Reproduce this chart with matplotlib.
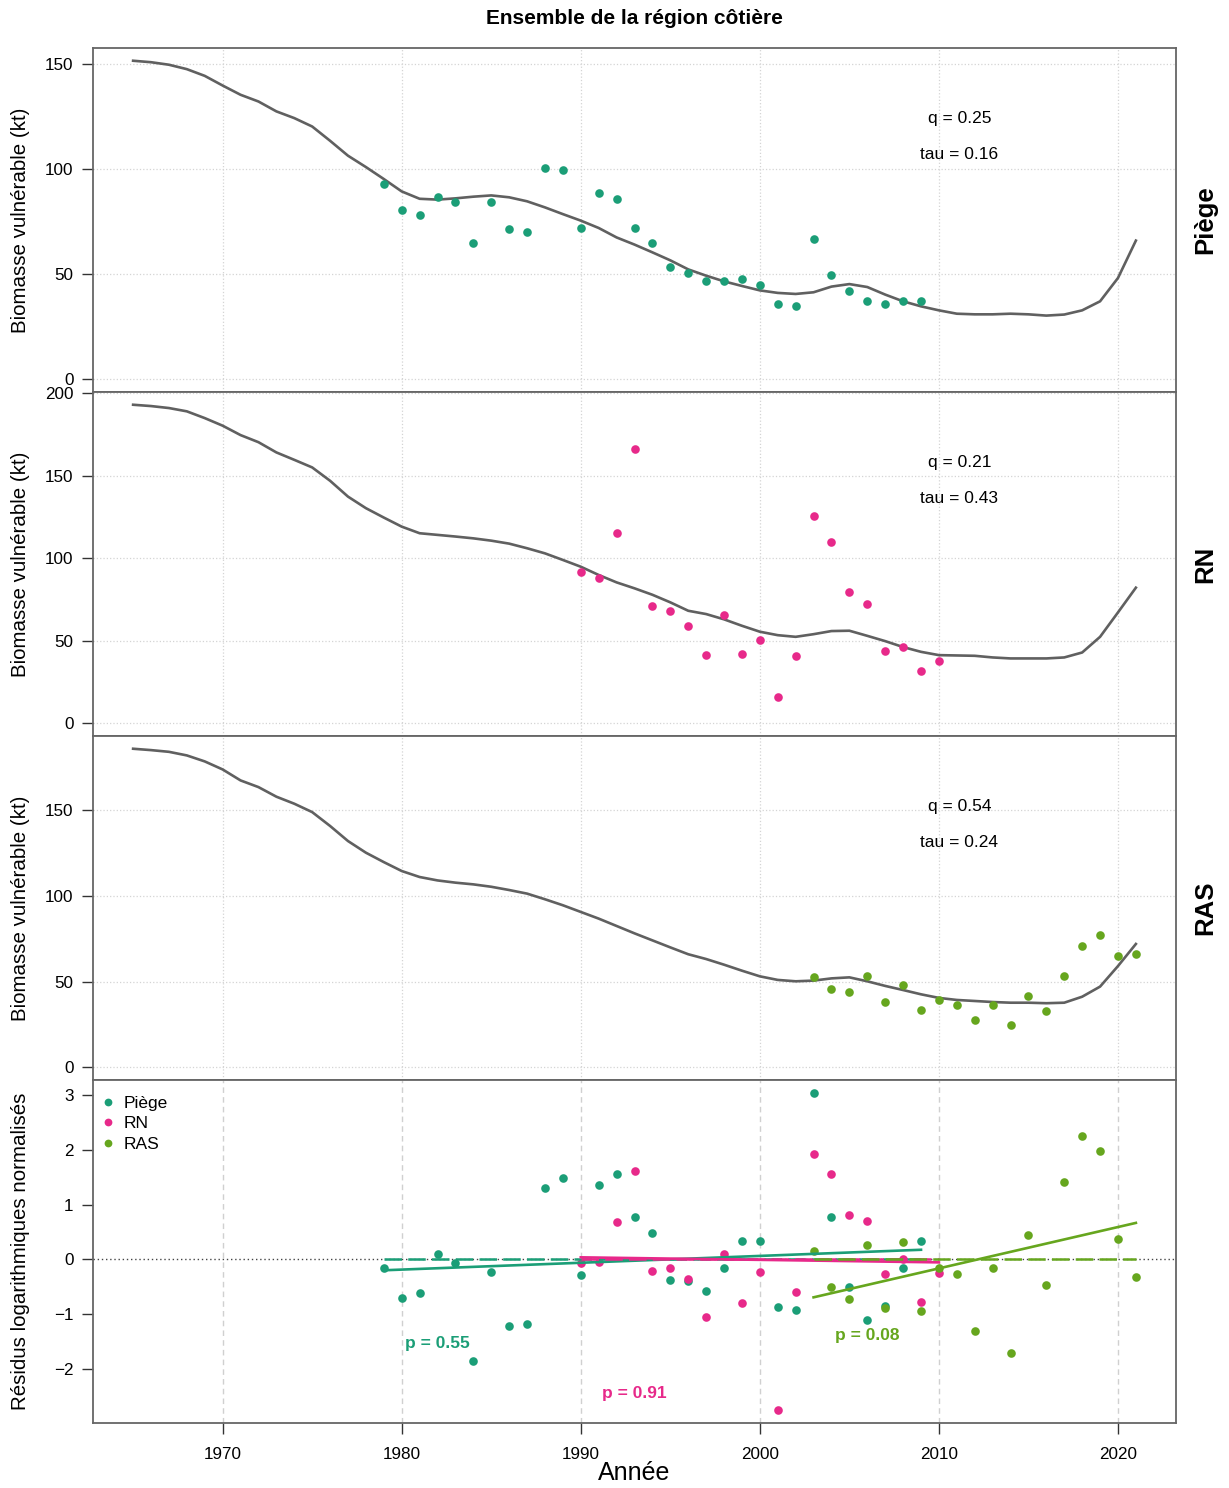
import numpy as np
import matplotlib
matplotlib.use("Agg")
import matplotlib.pyplot as plt
from matplotlib.lines import Line2D

plt.rcParams["font.family"] = ["Liberation Sans", "DejaVu Sans"]

# fitted vulnerable biomass (kt), 1965-2021
fit_years = list(range(1965, 2022))
piege_fit = [151.6, 150.9, 149.7, 147.6, 144.4, 139.8, 135.4, 132.2, 127.5, 124.3,
             120.3, 113.5, 106.4, 101.0, 95.3, 89.4, 85.9, 85.5, 86.1, 86.9,
             87.5, 86.6, 84.7, 81.8, 78.6, 75.5, 72.0, 67.5, 64.1, 60.4,
             56.6, 52.3, 49.3, 46.6, 44.4, 42.3, 41.1, 40.6, 41.4, 44.1,
             45.3, 43.9, 40.3, 37.1, 34.7, 32.8, 31.2, 30.9, 30.9, 31.2,
             30.9, 30.3, 30.8, 32.8, 37.1, 48.2, 66.0]
rn_fit = [193.1, 192.3, 191.1, 189.1, 185.0, 180.4, 174.7, 170.4, 164.2, 159.7,
          155.1, 147.0, 137.4, 130.4, 124.7, 119.2, 115.2, 114.2, 113.2, 112.1,
          110.7, 108.9, 106.1, 103.0, 99.0, 94.9, 89.9, 85.4, 81.8, 77.9,
          73.3, 68.2, 66.2, 63.0, 59.1, 55.5, 53.4, 52.4, 54.0, 55.9,
          56.1, 53.0, 49.8, 46.2, 43.3, 41.3, 41.1, 40.9, 39.9, 39.3,
          39.3, 39.3, 39.9, 42.9, 52.4, 67.2, 82.2]
ras_fit = [186.0, 185.2, 184.2, 182.1, 178.6, 173.9, 167.5, 163.6, 158.0, 153.9,
           149.0, 140.9, 132.1, 125.3, 119.8, 114.6, 111.1, 109.1, 107.8, 106.8,
           105.4, 103.5, 101.4, 98.1, 94.6, 90.7, 86.8, 82.5, 78.2, 74.1,
           70.0, 66.0, 63.2, 59.9, 56.4, 53.1, 51.0, 50.2, 50.6, 51.9,
           52.5, 50.2, 47.5, 45.1, 42.6, 40.5, 39.3, 38.7, 38.1, 37.7,
           37.7, 37.4, 37.7, 41.2, 47.1, 59.1, 72.0]

# index observations
piege_years = list(range(1979, 2010))
piege_obs = [92.9, 80.4, 78.0, 86.7, 84.5, 64.8, 84.5, 71.3, 70.2, 100.7,
             99.4, 71.8, 88.8, 85.8, 71.8, 64.8, 53.6, 50.7, 46.6, 46.6,
             47.9, 45.0, 36.0, 35.0, 66.9, 49.5, 42.0, 37.1, 36.0, 37.1, 37.3]
rn_years = list(range(1990, 2011))
rn_obs = [91.9, 88.1, 115.6, 166.2, 70.9, 68.2, 58.7, 41.3, 65.6, 41.9,
          50.2, 16.2, 40.9, 125.5, 109.7, 79.8, 72.1, 44.1, 46.0, 31.4, 37.7]
ras_years = list(range(2003, 2022))
ras_obs = [52.5, 45.9, 44.2, 53.3, 38.1, 48.2, 33.5, 39.1, 36.6, 27.8,
           36.4, 24.9, 41.6, 32.9, 53.3, 71.0, 77.4, 65.0, 66.3]

# normalised log residuals
piege_resid = [-0.16, -0.70, -0.61, 0.10, -0.07, -1.85, -0.22, -1.21, -1.18, 1.30,
               1.49, -0.28, 1.36, 1.55, 0.77, 0.48, -0.38, -0.39, -0.58, -0.16,
               0.34, 0.33, -0.87, -0.92, 3.04, 0.77, -0.51, -1.10, -0.84, -0.16, 0.34]
rn_resid = [-0.07, -0.05, 0.68, 1.62, -0.21, -0.16, -0.35, -1.05, 0.10, -0.79,
            -0.22, -2.75, -0.59, 1.93, 1.55, 0.81, 0.70, -0.27, 0.00, -0.78, -0.25]
ras_resid = [0.16, -0.50, -0.72, 0.26, -0.88, 0.31, -0.94, -0.15, -0.27, -1.30,
             -0.16, -1.71, 0.45, -0.47, 1.41, 2.25, 1.98, 0.37, -0.32]

names = ["Piège", "RN", "RAS"]
colors = ["#1B9E77", "#E7298A", "#66A61E"]
q_vals = ["0.25", "0.21", "0.54"]
tau_vals = ["0.16", "0.43", "0.24"]
p_vals = ["0.55", "0.91", "0.08"]
p_pos = [(1982.0, -1.53), (1993.0, -2.44), (2006.0, -1.38)]

fits = [piege_fit, rn_fit, ras_fit]
obs_years = [piege_years, rn_years, ras_years]
obs = [piege_obs, rn_obs, ras_obs]
resids = [piege_resid, rn_resid, ras_resid]

W, H = 1229, 1488
fig = plt.figure(figsize=(W / 100, H / 100), dpi=100)
left, right = 93 / W, 1176 / W
tops = [48, 392, 736, 1080]
bots = [392, 736, 1080, 1423]

xmin, xmax = min(fit_years), max(fit_years)
xr = xmax - xmin
xlim = (xmin - 0.04 * xr, xmax + 0.04 * xr)
spine_col = "#666666"
tick_fs = 12.3
ms = 6.2


def style_axes(ax, bottom_ticks):
    for s in ax.spines.values():
        s.set_color(spine_col)
        s.set_linewidth(1.3)
    ax.tick_params(axis="y", direction="out", length=8, width=1, color="#333333",
                   labelsize=tick_fs, pad=6)
    ax.tick_params(axis="x", direction="out", length=8, width=1, color="#333333",
                   labelsize=tick_fs, pad=9, bottom=bottom_ticks, labelbottom=bottom_ticks)
    ax.set_xlim(xlim)
    ax.set_xticks([1970, 1980, 1990, 2000, 2010, 2020])


axes = []
for i in range(4):
    ax = fig.add_axes([left, 1 - bots[i] / H, right - left, (bots[i] - tops[i]) / H])
    axes.append(ax)

# biomass panels
for i in range(3):
    ax = axes[i]
    style_axes(ax, False)
    ymax = max(max(fits[i]), max(obs[i]))
    ax.set_ylim(-0.04 * ymax, 1.04 * ymax)
    ax.set_yticks(np.arange(0, 1.04 * ymax, 50))
    ax.grid(True, color="#d4d4d4", linestyle=":", linewidth=0.9)
    ax.set_axisbelow(True)
    ax.plot(fit_years, fits[i], color="#606060", lw=1.9, zorder=3)
    ax.plot(obs_years[i], obs[i], "o", color=colors[i], ms=ms, mec="none", zorder=4)
    ax.text(0.80, 0.795, "q = " + q_vals[i], transform=ax.transAxes, ha="center",
            va="center", fontsize=12.5)
    ax.text(0.80, 0.69, "tau = " + tau_vals[i], transform=ax.transAxes, ha="center",
            va="center", fontsize=12.5)
    ax.set_ylabel("Biomasse vulnérable (kt)", fontsize=14.8)
    ax.yaxis.set_label_coords(-0.058, 0.5)
    yc = 1 - (tops[i] + bots[i]) / 2 / H
    fig.text(1205 / W, yc, names[i], rotation=90, ha="center", va="center",
             fontsize=18.5, fontweight="bold")

# residual panel
ax = axes[3]
style_axes(ax, True)
allres = piege_resid + rn_resid + ras_resid
rmin, rmax = min(allres), max(allres)
rr = rmax - rmin
ax.set_ylim(rmin - 0.04 * rr, rmax + 0.04 * rr)
ax.set_yticks([-2, -1, 0, 1, 2, 3])
for xv in [1970, 1980, 1990, 2000, 2010, 2020]:
    ax.axvline(xv, color="#d0d0d0", lw=1.0, ls=(0, (4, 3)), zorder=0)
ax.axhline(0, color="#444444", lw=1.0, ls=(0, (1, 2)), zorder=1)

for i in range(3):
    yrs = np.array(obs_years[i])
    res = np.array(resids[i])
    ax.plot(yrs, res, "o", color=colors[i], ms=ms, mec="none", zorder=3)
    slope, icpt = np.polyfit(yrs, res, 1)
    ends = np.array([yrs[0], yrs[-1]])
    ax.plot(ends, [0, 0], color=colors[i], lw=1.8, ls=(0, (7, 2.5)), zorder=4)
    ax.plot(ends, slope * ends + icpt, color=colors[i], lw=1.9, zorder=4)
    ax.text(p_pos[i][0], p_pos[i][1], "p = " + p_vals[i], color=colors[i],
            ha="center", va="center", fontsize=12.5, fontweight="bold")

handles = [Line2D([], [], marker="o", ls="none", color=c, ms=ms * 0.9, mec="none") for c in colors]
ax.legend(handles, names, loc="upper left", bbox_to_anchor=(0.0, 1 - 8 / 343), frameon=False,
          fontsize=12.5, handlelength=0.8, handletextpad=0.52, labelspacing=0.3,
          borderaxespad=0.23, borderpad=0.23)
ax.set_ylabel("Résidus logarithmiques normalisés", fontsize=14.8)
ax.yaxis.set_label_coords(-0.058, 0.5)

fig.text(634 / W, 1 - 1473 / H, "Année", ha="center", va="center", fontsize=18)
fig.text(634 / W, 1 - 18 / H, "Ensemble de la région côtière", ha="center",
         va="center", fontsize=15, fontweight="bold")

fig.savefig("out.png", dpi=100)
